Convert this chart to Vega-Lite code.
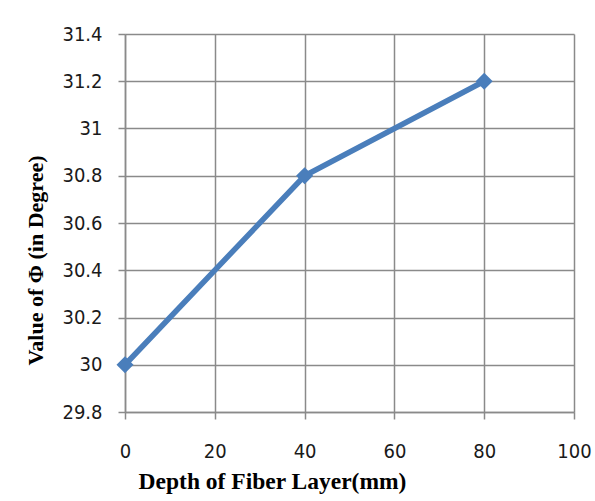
{
  "$schema": "https://vega.github.io/schema/vega-lite/v6.json",
  "width": 449,
  "height": 378,
  "autosize": "none",
  "padding": {"left": 125, "top": 34, "right": 21, "bottom": 89},
  "background": "white",
  "data": {
    "values": [
      {"depth": 0, "phi": 30.0},
      {"depth": 40, "phi": 30.8},
      {"depth": 80, "phi": 31.2}
    ]
  },
  "mark": {
    "type": "line",
    "color": "#4a7ebb",
    "strokeWidth": 5.5,
    "point": {"shape": "diamond", "size": 290, "filled": true, "color": "#4a7ebb", "opacity": 1}
  },
  "encoding": {
    "x": {
      "field": "depth",
      "type": "quantitative",
      "scale": {"domain": [0, 100], "nice": false},
      "axis": {
        "title": "Depth of Fiber Layer(mm)",
        "values": [0, 20, 40, 60, 80, 100],
        "labelBaseline": "alphabetic",
        "labelPadding": 38,
        "titleFontSize": 23.5,
        "titleX": 147,
        "titleY": 76,
        "titleAlign": "center",
        "titleBaseline": "alphabetic"
      }
    },
    "y": {
      "field": "phi",
      "type": "quantitative",
      "scale": {"domain": [29.8, 31.4], "nice": false, "zero": false},
      "axis": {
        "title": "Value of Φ (in Degree)",
        "values": [29.8, 30.0, 30.2, 30.4, 30.6, 30.8, 31.0, 31.2, 31.4],
        "format": ".1~f",
        "labelPadding": 16,
        "titleX": -90,
        "titleY": 226,
        "titleAngle": -90,
        "titleAlign": "center",
        "titleBaseline": "middle"
      }
    }
  },
  "config": {
    "view": {"stroke": null},
    "axis": {
      "grid": true,
      "gridColor": "#8a8a8a",
      "gridWidth": 1.5,
      "gridOpacity": 1,
      "domainColor": "#8a8a8a",
      "domainWidth": 1.5,
      "tickColor": "#8a8a8a",
      "tickWidth": 1.5,
      "tickSize": 7,
      "labelFont": "DejaVu Sans Condensed, Liberation Sans Narrow, DejaVu Sans",
      "labelFontSize": 20,
      "labelColor": "#1a1a1a",
      "labelOverlap": false,
      "labelFlush": false,
      "titleFont": "Liberation Serif",
      "titleFontWeight": "bold",
      "titleFontSize": 22,
      "titleColor": "#000000"
    }
  }
}
